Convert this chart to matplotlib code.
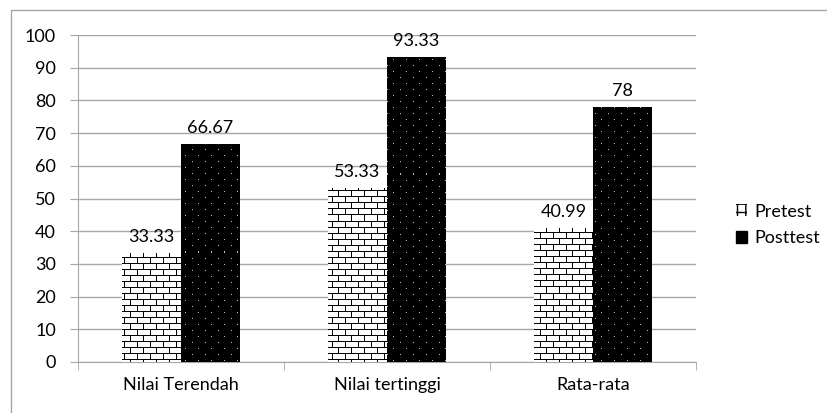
import numpy as np
import matplotlib.pyplot as plt
from matplotlib.patches import Patch, Rectangle

# chart data
categories = ['Nilai Terendah', 'Nilai tertinggi', 'Rata-rata']
pretest = [33.33, 53.33, 40.99]
posttest = [66.67, 93.33, 78]
pre_labels = ['33.33', '53.33', '40.99']
post_labels = ['66.67', '93.33', '78']
yticks = list(range(0, 101, 10))

plt.rcParams['font.family'] = ['Lato', 'DejaVu Sans']
fs = 13

fig = plt.figure(figsize=(8.28, 4.13), dpi=100)
ax = fig.add_axes([78 / 828, 51 / 413, 618 / 828, 327 / 413])

# outer chart border (top and left visible)
fig.patches.append(Rectangle((11 / 828, -0.1), 1.2, 0.1 + 403 / 413, transform=fig.transFigure,
                             fill=False, edgecolor='#a6a6a6', linewidth=1.0))

x = np.arange(len(categories))
w = 0.2857
ax.set_xlim(-0.5, len(categories) - 0.5)
ax.set_ylim(0, 100)

bars_pre = ax.bar(x - w / 2, pretest, w, color='white', linewidth=0, zorder=3)
bars_post = ax.bar(x + w / 2, posttest, w, color='black', linewidth=0, zorder=3)

# pattern textures in pixel size of the axes
H, W = 327, 618
brick = np.ones((H, W))
rows = np.arange(H)
cols = np.arange(W)
brick[rows % 6 == 0, :] = 0
for r in range(H):
    off = 0 if (r // 6) % 2 == 0 else 6
    brick[r, (cols + off) % 13 == 0] = 0
dots = np.zeros((H, W))
for r in range(1, H, 6):
    off = 0 if (r // 6) % 2 == 0 else 6
    dots[r, (cols + off) % 13 == 3] = 0.75

for b in bars_pre:
    im = ax.imshow(brick, cmap='gray', vmin=0, vmax=1, extent=(-0.5, 2.5, 0, 100),
                   aspect='auto', interpolation='nearest', zorder=4)
    im.set_clip_path(b)
for b in bars_post:
    im = ax.imshow(dots, cmap='gray', vmin=0, vmax=1, extent=(-0.5, 2.5, 0, 100),
                   aspect='auto', interpolation='nearest', zorder=4)
    im.set_clip_path(b)

# value labels
for i in range(len(categories)):
    ax.text(x[i] - w / 2, pretest[i] + 2.3, pre_labels[i], ha='center', va='bottom',
            fontsize=fs, color='black', zorder=5)
    ax.text(x[i] + w / 2, posttest[i] + 2.3, post_labels[i], ha='center', va='bottom',
            fontsize=fs, color='black', zorder=5)

ax.set_yticks(yticks)
ax.grid(axis='y', color='#a6a6a6', linewidth=1.0, zorder=0)
ax.set_xticks(x)
ax.set_xticklabels(categories)
ax.set_xticks(np.arange(-0.5, len(categories), 1), minor=True)
ax.tick_params(axis='x', which='major', length=0, pad=11, labelsize=fs, colors='black')
ax.tick_params(axis='x', which='minor', length=6, color='#a6a6a6')
ax.tick_params(axis='y', length=6, color='#a6a6a6', labelsize=fs, labelcolor='black', pad=10)
for s in ['top', 'right']:
    ax.spines[s].set_visible(False)
for s in ['left', 'bottom']:
    ax.spines[s].set_color('#a6a6a6')

handles = [Patch(facecolor='white', edgecolor='black', hatch='++', linewidth=0),
           Patch(facecolor='black', edgecolor='black')]
fig.legend(handles, ['Pretest', 'Posttest'], loc='center left', bbox_to_anchor=(720 / 828, 188 / 413),
           frameon=False, fontsize=fs, handlelength=0.6, handleheight=0.6, handletextpad=0.4,
           labelspacing=0.6)

plt.savefig('out.png', dpi=100)
